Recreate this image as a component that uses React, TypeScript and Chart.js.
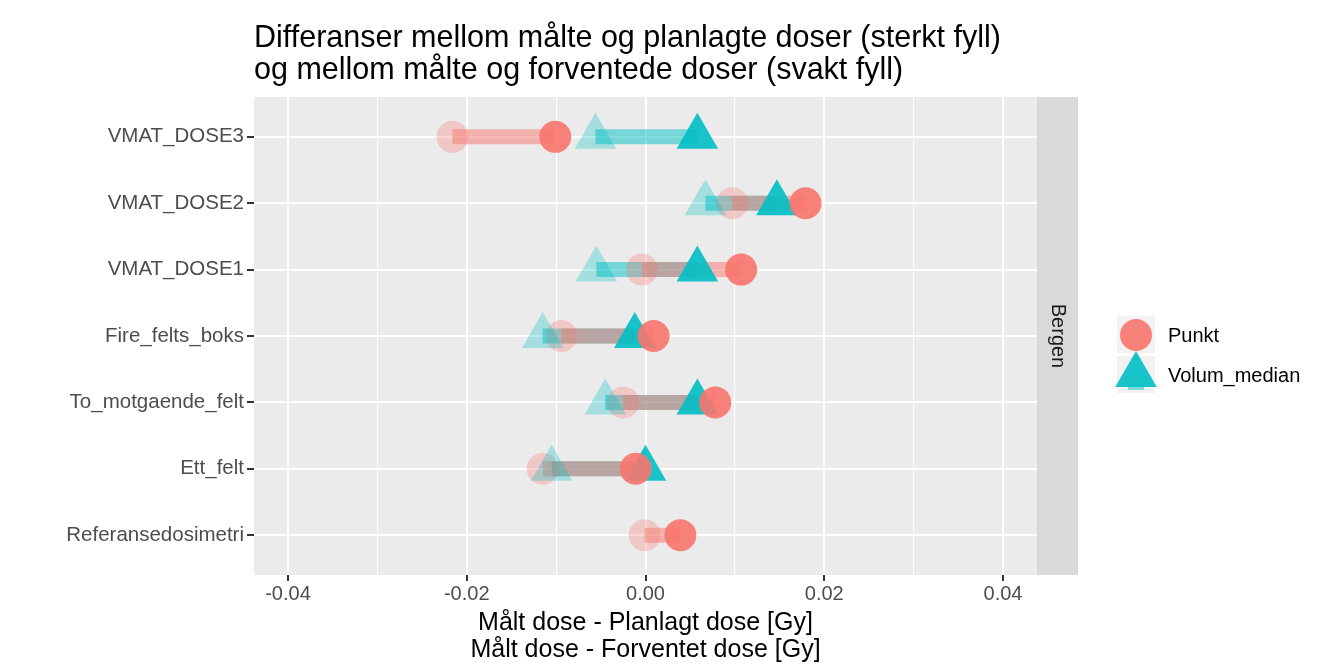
import React, { useEffect, useRef } from 'react';
import { Chart, registerables } from 'chart.js';

Chart.register(...registerables);

const categories = [
  'VMAT_DOSE3',
  'VMAT_DOSE2',
  'VMAT_DOSE1',
  'Fire_felts_boks',
  'To_motgaende_felt',
  'Ett_felt',
  'Referansedosimetri',
];
// Målt - Planlagt (sterkt fyll)
const punktPlanlagt: (number | null)[] = [-0.0101, 0.0179, 0.0107, 0.0009, 0.0078, -0.0011, 0.0039];
const volumPlanlagt: (number | null)[] = [0.0058, 0.0147, 0.0058, -0.0012, 0.0058, 0.0, null];
// Målt - Forventet (svakt fyll)
const punktForventet: (number | null)[] = [-0.0216, 0.0097, -0.0004, -0.0094, -0.0025, -0.0115, -0.0001];
const volumForventet: (number | null)[] = [-0.0056, 0.0067, -0.0055, -0.0115, -0.0045, -0.0105, null];

const xTickValues = [-0.04, -0.03, -0.02, -0.01, 0, 0.01, 0.02, 0.03, 0.04];
const xTickLabels = ['-0.04', '', '-0.02', '', '0.00', '', '0.02', '', '0.04'];

const seriesNames = ['Punkt', 'Volum_median'];
const facetLabel = 'Bergen';
const titleLines = [
  'Differanser mellom målte og planlagte doser (sterkt fyll)',
  'og mellom målte og forventede doser (svakt fyll)',
];
const xTitleLines = ['Målt dose - Planlagt dose [Gy]', 'Målt dose - Forventet dose [Gy]'];

const RED = '248,118,109';
const TEAL = '0,191,196';
const FONT = '"Liberation Sans", Arial, sans-serif';

const yPos = (i: number) => categories.length - i;

function pts(vals: (number | null)[]) {
  const out: { x: number; y: number }[] = [];
  vals.forEach((v, i) => {
    if (v !== null) out.push({ x: v, y: yPos(i) });
  });
  return out;
}

function segments(a: (number | null)[], b: (number | null)[], rgb: string) {
  const ds: any[] = [];
  a.forEach((v, i) => {
    const w = b[i];
    if (v === null || w === null) return;
    ds.push({
      type: 'line',
      data: [
        { x: v, y: yPos(i) },
        { x: w, y: yPos(i) },
      ],
      borderColor: `rgba(${rgb},0.5)`,
      borderWidth: 15,
      borderCapStyle: 'butt',
      pointRadius: 0,
      order: 10,
    });
  });
  return ds;
}

const decorPlugin = {
  id: 'decor',
  beforeDraw(chart: any) {
    const { ctx, chartArea: a } = chart;
    ctx.save();
    ctx.fillStyle = '#EBEBEB';
    ctx.fillRect(a.left, a.top, a.right - a.left, a.bottom - a.top);
    ctx.restore();
  },
  afterDraw(chart: any) {
    const { ctx, chartArea: a } = chart;
    ctx.save();
    // strip
    ctx.fillStyle = '#D9D9D9';
    ctx.fillRect(a.right, a.top, 41, a.bottom - a.top);
    ctx.save();
    ctx.translate(a.right + 20.5, (a.top + a.bottom) / 2);
    ctx.rotate(Math.PI / 2);
    ctx.fillStyle = '#1A1A1A';
    ctx.font = `20px ${FONT}`;
    ctx.textAlign = 'center';
    ctx.textBaseline = 'middle';
    ctx.fillText(facetLabel, 0, 0);
    ctx.restore();

    // title
    ctx.fillStyle = '#000000';
    ctx.font = `30.5px ${FONT}`;
    ctx.textAlign = 'left';
    ctx.textBaseline = 'alphabetic';
    ctx.fillText(titleLines[0], a.left, 47);
    ctx.fillText(titleLines[1], a.left, 79);

    // x title
    ctx.font = `25px ${FONT}`;
    ctx.textAlign = 'center';
    const cx = (a.left + a.right) / 2;
    ctx.fillText(xTitleLines[0], cx, 630);
    ctx.fillText(xTitleLines[1], cx, 657);

    // legend
    const kx = 1117;
    const keys = [316, 356];
    ctx.fillStyle = '#F2F2F2';
    keys.forEach((ky) => ctx.fillRect(kx, ky, 38, 37));
    // circle key
    ctx.fillStyle = `rgba(${RED},0.9)`;
    ctx.beginPath();
    ctx.arc(kx + 19, 335, 16, 0, Math.PI * 2);
    ctx.fill();
    // triangle key
    ctx.fillStyle = `rgba(${TEAL},0.5)`;
    ctx.fillRect(kx + 11, 384, 16, 6);
    const tr = 24;
    const tcx = kx + 19;
    const tcy = 375;
    ctx.fillStyle = `rgba(${TEAL},0.9)`;
    ctx.beginPath();
    ctx.moveTo(tcx, tcy - tr);
    ctx.lineTo(tcx + tr * Math.sin((2 * Math.PI) / 3), tcy + tr / 2);
    ctx.lineTo(tcx - tr * Math.sin((2 * Math.PI) / 3), tcy + tr / 2);
    ctx.closePath();
    ctx.fill();
    ctx.fillStyle = '#000000';
    ctx.font = `20px ${FONT}`;
    ctx.textAlign = 'left';
    ctx.textBaseline = 'middle';
    ctx.fillText(seriesNames[0], 1168, 336);
    ctx.fillText(seriesNames[1], 1168, 376);
    ctx.restore();
  },
};

export default function App() {
  const ref = useRef<HTMLCanvasElement | null>(null);
  useEffect(() => {
    if (!ref.current) return;
    const datasets: any[] = [
      ...segments(punktForventet, punktPlanlagt, RED),
      ...segments(volumForventet, volumPlanlagt, TEAL),
      {
        type: 'scatter',
        label: seriesNames[0] + ' forventet',
        data: pts(punktForventet),
        pointStyle: 'circle',
        pointRadius: 16,
        pointBackgroundColor: `rgba(${RED},0.3)`,
        pointBorderWidth: 0,
        order: 5,
      },
      {
        type: 'scatter',
        label: seriesNames[1] + ' forventet',
        data: pts(volumForventet),
        pointStyle: 'triangle',
        pointRadius: 24,
        pointBackgroundColor: `rgba(${TEAL},0.3)`,
        pointBorderWidth: 0,
        order: 4,
      },
      {
        type: 'scatter',
        label: seriesNames[0],
        data: pts(punktPlanlagt),
        pointStyle: 'circle',
        pointRadius: 16,
        pointBackgroundColor: `rgba(${RED},0.9)`,
        pointBorderWidth: 0,
        order: 1,
      },
      {
        type: 'scatter',
        label: seriesNames[1],
        data: pts(volumPlanlagt),
        pointStyle: 'triangle',
        pointRadius: 24,
        pointBackgroundColor: `rgba(${TEAL},0.9)`,
        pointBorderWidth: 0,
        order: 2,
      },
    ];
    const chart = new Chart(ref.current, {
      type: 'scatter',
      data: { datasets },
      plugins: [decorPlugin],
      options: {
        animation: false,
        responsive: true,
        maintainAspectRatio: false,
        layout: { padding: { left: 0, top: 97, right: 295, bottom: 0 } },
        plugins: { legend: { display: false }, title: { display: false }, tooltip: { enabled: false } },
        scales: {
          x: {
            type: 'linear',
            min: -0.0438,
            max: 0.0438,
            afterBuildTicks: (s: any) => {
              s.ticks = xTickValues.map((v) => ({ value: v }));
            },
            afterFit: (s: any) => {
              s.height = 89;
            },
            ticks: {
              autoSkip: false,
              maxRotation: 0,
              padding: 1,
              color: '#4D4D4D',
              font: { family: FONT, size: 20 },
              callback: (_v: any, i: number) => xTickLabels[i],
            },
            grid: {
              color: '#FFFFFF',
              lineWidth: (c: any) => (c.index % 2 === 0 ? 2 : 1.1),
              tickColor: (c: any) => (c.index % 2 === 0 ? '#333333' : 'rgba(0,0,0,0)'),
              tickLength: 6,
              tickWidth: 2,
            },
            border: { display: false },
          },
          y: {
            type: 'linear',
            min: 0.4,
            max: 7.6,
            afterBuildTicks: (s: any) => {
              s.ticks = categories.map((_c, i) => ({ value: yPos(i) }));
            },
            afterFit: (s: any) => {
              s.width = 254;
            },
            ticks: {
              autoSkip: false,
              padding: 3,
              color: '#4D4D4D',
              font: { family: FONT, size: 20.5 },
              callback: (v: any) => categories[categories.length - Number(v)],
            },
            grid: {
              color: '#FFFFFF',
              lineWidth: 2,
              tickColor: '#333333',
              tickLength: 7,
              tickWidth: 2,
            },
            border: { display: false },
          },
        },
      },
    });
    return () => chart.destroy();
  }, []);
  return (
    <div style={{ position: 'fixed', left: 0, top: 0, width: 1332, height: 664, background: '#FFFFFF' }}>
      <canvas ref={ref} />
    </div>
  );
}
